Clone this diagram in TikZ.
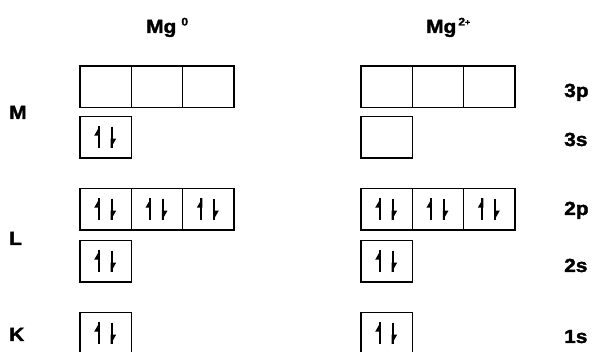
\documentclass[tikz,border=0pt]{standalone}
\usepackage{fontspec}
\setmainfont{Liberation Sans}[FakeStretch=1.1, FakeBold=1.8]
\newcommand{\supsize}{\fontsize{11}{11}\selectfont}
\begin{document}
\begin{tikzpicture}[x=1pt,y=-1pt,
  orb/.style={draw, line width=1.6pt, minimum width=51.3pt, minimum height=41.5pt,
    inner sep=0pt, outer sep=0pt, anchor=north west},
  spinpair/.style={orb, path picture={
    \begin{scope}[shift={(path picture bounding box.center)}]
      % spin up: harpoon with the barb on the left
      \draw[line width=2.2pt] (-7,10.5) -- (-7,-11);
      \fill (-6,-11) -- (-11.5,-1.5) -- (-6,-1.5) -- cycle;
      % spin down: harpoon with the barb on the right
      \draw[line width=2.2pt] (6,-10.5) -- (6,11);
      \fill (5,11) -- (10.5,1.5) -- (5,1.5) -- cycle;
    \end{scope}}},
  lbl/.style={font=\fontsize{19}{19}\selectfont\bfseries, inner sep=0pt, anchor=base west}]
\useasboundingbox (0,0) rectangle (594,352);
\clip (0,0) rectangle (594,352);

% column headings
\node[lbl] (hA) at (146,33) {Mg\hspace{5pt}\raisebox{7.5pt}{\supsize 0}};
\node[lbl] (hB) at (426,33) {Mg\hspace{2pt}\raisebox{7.5pt}{\supsize 2\raisebox{0.5pt}{\fontsize{8}{8}\selectfont+}}};

% shell labels
\node[lbl] (shM) at (9,119) {M};
\node[lbl] (shL) at (9,245) {L};
\node[lbl] (shK) at (9,341) {K};

% subshell labels
\node[lbl] (s3p) at (564,97) {3p};
\node[lbl] (s3s) at (564,146) {3s};
\node[lbl] (s2p) at (564,215) {2p};
\node[lbl] (s2s) at (564,272) {2s};
\node[lbl] (s1s) at (564,343) {1s};

% Mg atom
\node[orb] (a3p1) at (80,66) {};
\node[orb] (a3p2) at (131.3,66) {};
\node[orb] (a3p3) at (182.6,66) {};
\node[spinpair] (a3s) at (80,116.5) {};
\node[spinpair] (a2p1) at (80,188.5) {};
\node[spinpair] (a2p2) at (131.3,188.5) {};
\node[spinpair] (a2p3) at (182.6,188.5) {};
\node[spinpair] (a2s) at (80,240.5) {};
\node[spinpair] (a1s) at (80,312.5) {};

% Mg2+ ion
\node[orb] (b3p1) at (361,66) {};
\node[orb] (b3p2) at (412.3,66) {};
\node[orb] (b3p3) at (463.6,66) {};
\node[orb] (b3s) at (361,116.5) {};
\node[spinpair] (b2p1) at (361,188.5) {};
\node[spinpair] (b2p2) at (412.3,188.5) {};
\node[spinpair] (b2p3) at (463.6,188.5) {};
\node[spinpair] (b2s) at (361,240.5) {};
\node[spinpair] (b1s) at (361,312.5) {};
\end{tikzpicture}
\end{document}
